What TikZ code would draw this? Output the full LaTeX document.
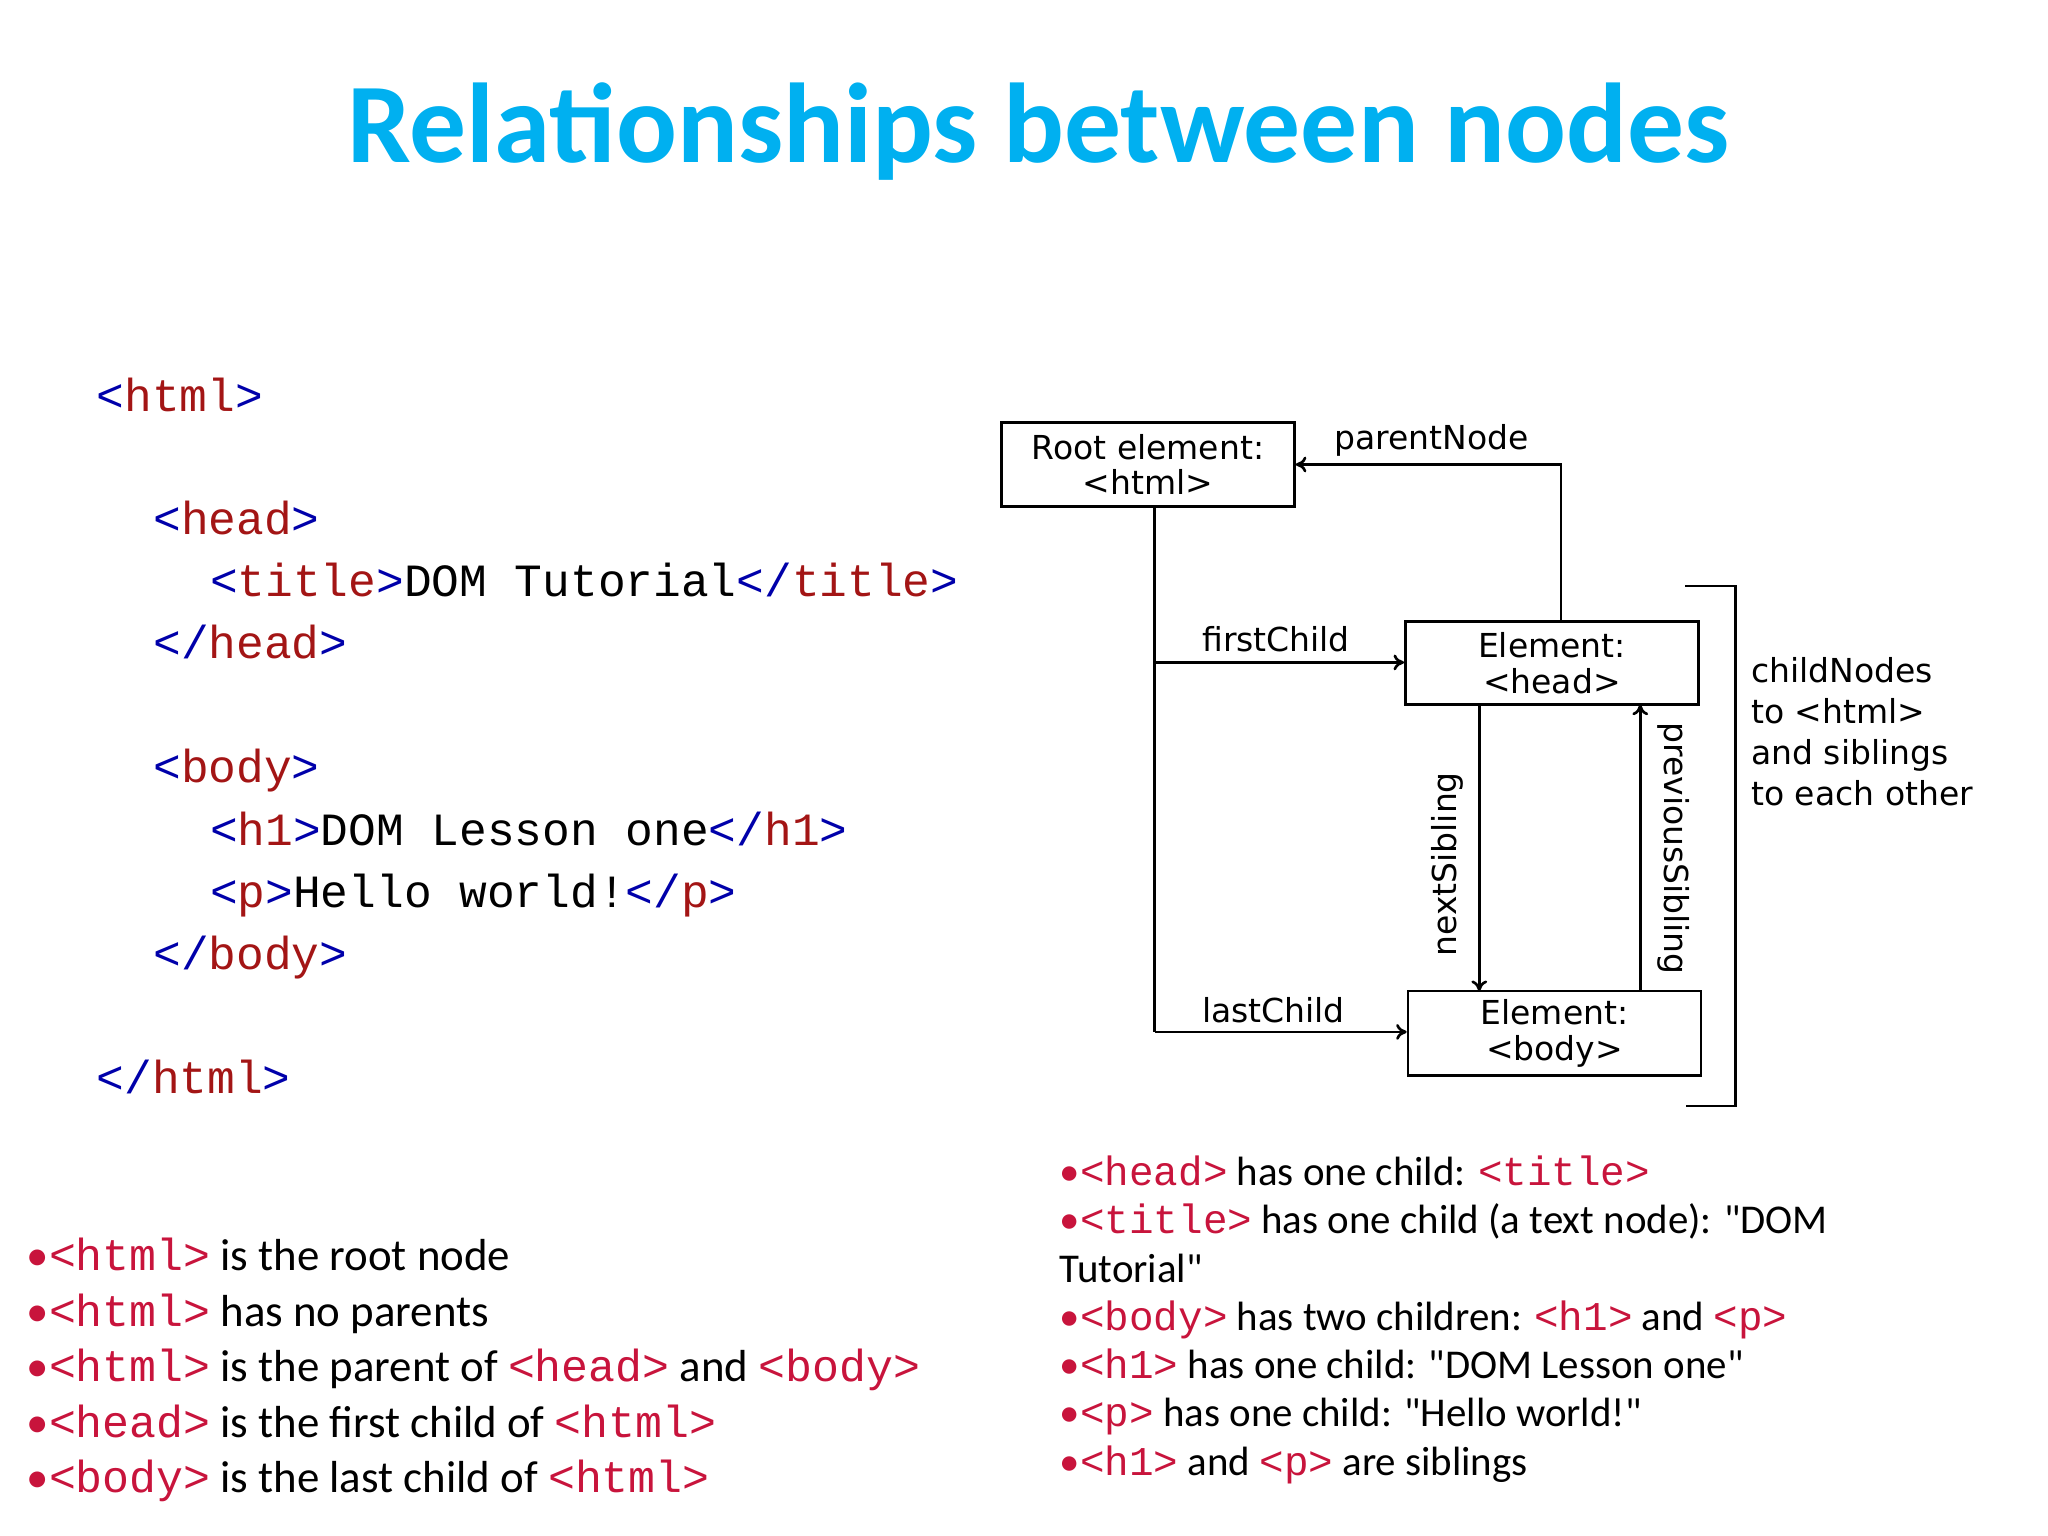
\documentclass[tikz,border=0pt]{standalone}
\usepackage{fontspec}
\usetikzlibrary{arrows.meta}
\newfontfamily\calfont{Carlito}
\newfontfamily\monofont{Liberation Mono}
\newfontfamily\verdfont{DejaVu Sans}
\definecolor{ttl}{RGB}{0,176,240}
\definecolor{cb}{RGB}{0,0,170}
\definecolor{cr}{RGB}{163,21,21}
\definecolor{crim}{RGB}{200,20,60}
\newcommand{\ot}[1]{\textcolor{cb}{<}\textcolor{cr}{#1}\textcolor{cb}{>}}
\newcommand{\ct}[1]{\textcolor{cb}{</}\textcolor{cr}{#1}\textcolor{cb}{>}}
\newcommand{\rt}[1]{{\monofont\textcolor{crim}{<#1>}}}
\tikzset{
 code/.style={anchor=base west,inner sep=0,font=\fontsize{35}{40}\monofont},
 bl/.style={anchor=base west,inner sep=0,font=\fontsize{34}{40}\calfont},
 br/.style={anchor=base west,inner sep=0,font=\fontsize{31}{37}\calfont},
 box/.style={draw,line width=2pt},
 lab/.style={inner sep=0,font=\fontsize{25}{29}\verdfont},
 ln/.style={line width=2pt},
 ar/.style={line width=2pt,-{To[length=8pt,width=12pt]}}
}
\begin{document}
\begin{tikzpicture}[x=1pt,y=-1pt]
\useasboundingbox (0,0) rectangle (1552,1164);
\node[inner sep=0,text=ttl,font=\fontsize{86}{90}\calfont\bfseries] (title) at (787,100) {Relationships between nodes};
% code
\node[code] (c1) at (73,312) {\ot{html}};
\node[code] (c2) at (116,405) {\ot{head}};
\node[code] (c3) at (159,452) {\ot{title}DOM Tutorial\ct{title}};
\node[code] (c4) at (116,499) {\ct{head}};
\node[code] (c5) at (116,593) {\ot{body}};
\node[code] (c6) at (159,641) {\ot{h1}DOM Lesson one\ct{h1}};
\node[code] (c7) at (159,688) {\ot{p}Hello world!\ct{p}};
\node[code] (c8) at (116,735) {\ct{body}};
\node[code] (c9) at (73,829) {\ct{html}};
% bottom left
\node[bl] (l1) at (20,963) {\textcolor{crim}{•}\rt{html} is the root node};
\node[bl] (l2) at (20,1005) {\textcolor{crim}{•}\rt{html} has no parents};
\node[bl] (l3) at (20,1047) {\textcolor{crim}{•}\rt{html} is the parent of \rt{head} and \rt{body}};
\node[bl] (l4) at (20,1089) {\textcolor{crim}{•}\rt{head} is the first child of \rt{html}};
\node[bl] (l5) at (20,1131) {\textcolor{crim}{•}\rt{body} is the last child of \rt{html}};
% bottom right
\node[br] (r1) at (803,898) {\textcolor{crim}{•}\rt{head} has one child: \rt{title}};
\node[br] (r2) at (803,935) {\textcolor{crim}{•}\rt{title} has one child (a text node): "DOM};
\node[br] (r3) at (803,972) {Tutorial"};
\node[br] (r4) at (803,1008) {\textcolor{crim}{•}\rt{body} has two children: \rt{h1} and \rt{p}};
\node[br] (r5) at (803,1045) {\textcolor{crim}{•}\rt{h1} has one child: "DOM Lesson one"};
\node[br] (r6) at (803,1081) {\textcolor{crim}{•}\rt{p} has one child: "Hello world!"};
\node[br] (r7) at (803,1118) {\textcolor{crim}{•}\rt{h1} and \rt{p} are siblings};
% diagram
\node[box,minimum width=222pt,minimum height=64pt,align=center,font=\fontsize{25}{27}\verdfont] (root) at (870,352) {Root element:\\<html>};
\node[box,minimum width=222pt,minimum height=63pt,align=center,font=\fontsize{25}{27}\verdfont] (head) at (1176,502.5) {Element:\\<head>};
\node[box,minimum width=222pt,minimum height=64pt,align=center,font=\fontsize{25}{27}\verdfont] (body) at (1178,783) {Element:\\<body>};
\coordinate (j1) at (875,502);
\coordinate (j2) at (875,782);
\draw[ln] (875,384) -- (j2);
\draw[ar] (j1) -- (head.west|-j1);
\draw[ar] (j2) -- (body.west|-j2);
\draw[ar] (1183,471) -- (1183,352) -- (root.east|-0,352);
\draw[ar] (1121,534) -- (1121,751);
\draw[ar] (1243,751) -- (1243,534);
\draw[ln] (1277,444) -- (1315,444) -- (1315,838) -- (1278,838);
\node[lab,anchor=base] (pn) at (1085,341) {parentNode};
\node[lab,anchor=base] (fc) at (967,494) {firstChild};
\node[lab,anchor=base] (lc) at (965,775) {lastChild};
\node[lab,rotate=90] (ns) at (1097,655) {nextSibling};
\node[lab,rotate=-90] (ps) at (1268,643) {previousSibling};
\node[lab,anchor=north west,align=left,font=\fontsize{25}{31}\verdfont] (cn) at (1327,498) {childNodes\\to <html>\\and siblings\\to each other};
\end{tikzpicture}
\end{document}
